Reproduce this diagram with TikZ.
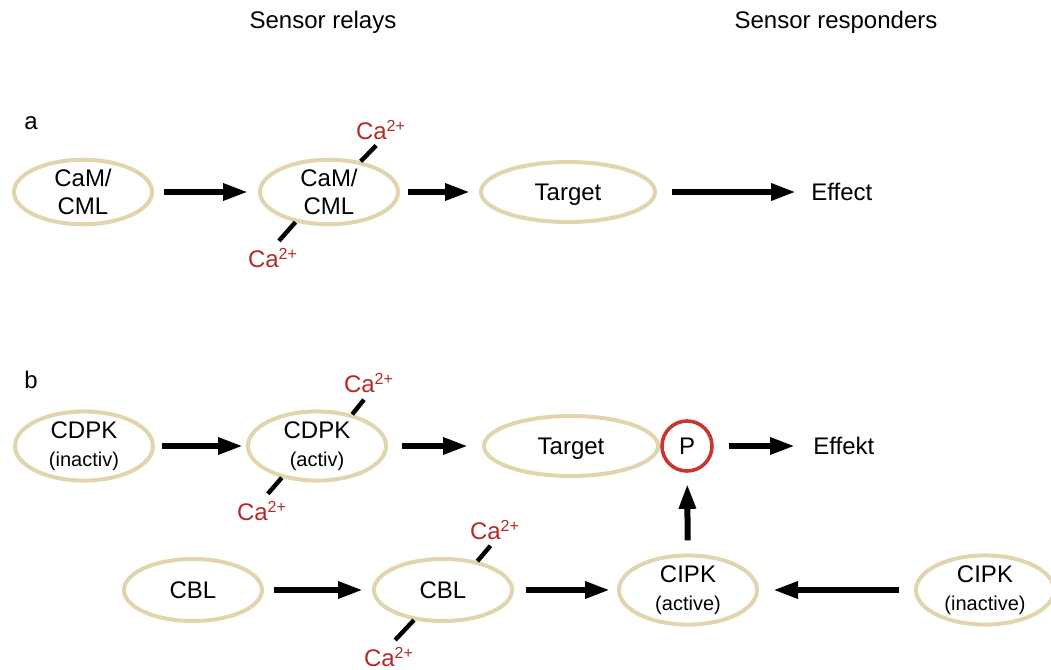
\documentclass[tikz,border=0pt]{standalone}
\usepackage{fontspec}
\setmainfont{Liberation Sans}
\usetikzlibrary{shapes.geometric,arrows.meta,positioning}

\definecolor{sensorbeige}{RGB}{224,213,172}
\definecolor{cared}{RGB}{180,40,40}
\definecolor{pred}{RGB}{200,55,45}

\newcommand{\ca}{Ca\textsuperscript{2+}}
\newcommand{\statefont}{\fontsize{10}{12}\selectfont}

\begin{document}
\begin{tikzpicture}[
    x=0.5pt, y=-0.5pt,
    every node/.style={font=\fontsize{12}{14}\selectfont},
    sensor/.style={ellipse, draw=sensorbeige, line width=2pt, minimum width=69pt, minimum height=31pt, inner sep=0pt, align=center},
    target/.style={sensor, minimum width=87pt, minimum height=30pt, text depth=0pt},
    phos/.style={circle, draw=pred, line width=1.8pt, minimum size=25pt, inner sep=0pt},
    ion/.style={text=cared, inner sep=0pt},
    catick/.style={line width=2.2pt, shorten >=3.5pt},
    arr/.style={-{Triangle[length=12.5pt,width=8pt]}, line width=3pt, shorten <=5pt, shorten >=5pt}
]
    \useasboundingbox (0,0) rectangle (1051,670);

    % Column headings
    \node (relays) at (323,22) {Sensor relays};
    \node (responders) at (836,22) {Sensor responders};

    % Panel a
    \node (la) at (31,123) {a};

    \node[sensor] (cam1) at (83,192) {CaM/\\CML};
    \node[sensor] (cam2) at (329,192) {CaM/\\CML};
    \node[target] (tgta) at (568,192) {Target};
    \node[anchor=west, inner sep=0pt] (effa) at (811,192) {Effect};

    \node[ion] (caa1) at (381,130) {\ca};
    \node[ion] (caa2) at (273,258) {\ca};

    \draw[arr] (cam1) -- (cam2);
    \draw[arr, shorten <=4pt, shorten >=4.5pt] (cam2) -- (tgta);
    \draw[arr, shorten <=7.5pt, shorten >=7.5pt] (tgta) -- (effa);

    \draw[catick] (cam2.44) -- (caa1.south);
    \draw[catick, shorten >=4.5pt] (cam2.222) -- (caa2.north);

    % Panel b
    \node (lb) at (31,380) {b};

    \node[sensor] (cdpk1) at (84,446) {CDPK\\{\statefont (inactiv)}};
    \node[sensor] (cdpk2) at (317,446) {CDPK\\{\statefont (activ)}};
    \node[target] (tgtb) at (571,446) {Target};
    \node[phos] (p) at (687,446) {P};
    \node[anchor=west, inner sep=0pt] (effb) at (813,446) {Effekt};

    \node[ion] (cab1) at (369,383) {\ca};
    \node[ion] (cab2) at (262,511) {\ca};

    \draw[arr, shorten <=3.5pt, shorten >=1.5pt] (cdpk1) -- (cdpk2);
    \draw[arr, shorten <=7pt, shorten >=7pt] (cdpk2) -- (tgtb);
    \draw[arr, shorten <=7.5pt, shorten >=9pt] (p) -- (effb);

    \draw[catick, shorten >=4pt] (cdpk2.42) -- (cab1.south);
    \draw[catick, shorten >=4.5pt] (cdpk2.222) -- (cab2.north);

    % CBL / CIPK branch
    \node[sensor] (cbl1) at (193,590) {CBL};
    \node[sensor] (cbl2) at (443,590) {CBL};
    \node[sensor] (cipk1) at (688,590) {CIPK\\{\statefont (active)}};
    \node[sensor] (cipk2) at (985,590) {CIPK\\{\statefont (inactive)}};

    \node[ion] (cac1) at (495,530) {\ca};
    \node[ion] (cac2) at (389,657) {\ca};

    \draw[arr, shorten >=4.5pt] (cbl1) -- (cbl2);
    \draw[arr, shorten <=6pt, shorten >=3.5pt] (cbl2) -- (cipk1);
    \draw[arr, shorten <=7.5pt, shorten >=7pt] (cipk2) -- (cipk1);
    \draw[arr, shorten <=6.5pt, shorten >=5.5pt] (cipk1) -- (p);

    \draw[catick] (cbl2.40) -- (cac1.south);
    \draw[catick, shorten >=4.5pt] (cbl2.226) -- (cac2.north);

\end{tikzpicture}
\end{document}
